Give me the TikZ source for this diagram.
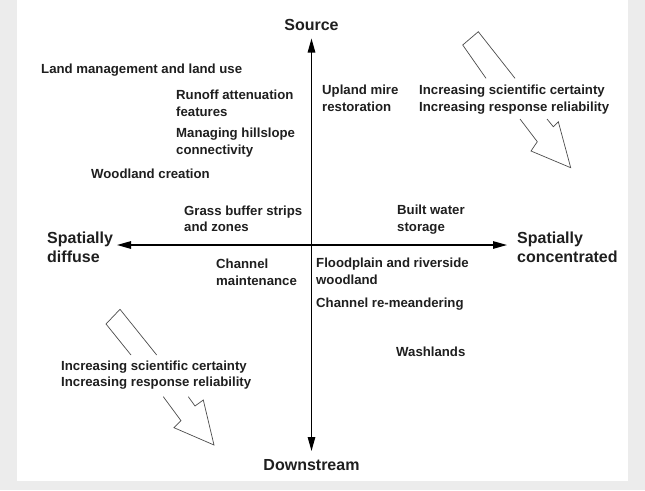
\documentclass[tikz,border=0pt]{standalone}
\usepackage{fontspec}
\setmainfont{Liberation Sans}
\usetikzlibrary{arrows.meta}
\definecolor{bggray}{RGB}{236,236,236}
\tikzset{
  lbl/.style={font=\fontsize{13.2}{16.7}\selectfont\bfseries, inner sep=0pt, anchor=north west, align=left, text=black!88},
  big/.style={font=\fontsize{16}{19}\selectfont\bfseries, inner sep=0pt, align=left, text=black!88},
  axisline/.style={line width=1.2pt, {Triangle[length=14pt,width=7.5pt]}-{Triangle[length=14pt,width=7.5pt]}},
  hollow/.style={line width=0.7pt, draw=black!70, line join=miter}
}
\begin{document}
\begin{tikzpicture}[x=1pt,y=-1pt]
\useasboundingbox (0,0) rectangle (645,490);
\fill[bggray] (0,0) rectangle (645,490);
\fill[white] (17,0) rectangle (628,481);

% axes
\coordinate (up) at (311.5,38.5);
\coordinate (down) at (311.5,451);
\coordinate (left) at (117,245);
\coordinate (right) at (507,245);
\draw[axisline] (down) -- (up);
\draw[axisline] (left) -- (right);

% axis labels
\node[big, anchor=base] (source) at (311.5,30) {Source};
\node[big, anchor=base] (downstream) at (311.5,470) {Downstream};
\node[big, anchor=north west] (diffuse) at (47,231.5) {Spatially\\diffuse};
\node[big, anchor=north west] (concentrated) at (517,231.5) {Spatially\\concentrated};

% measures
\node[lbl] (land) at (41,63.7) {Land management and land use};
\node[lbl] (runoff) at (176,89.7) {Runoff attenuation\\features};
\node[lbl] (hillslope) at (176,128.1) {Managing hillslope\\connectivity};
\node[lbl] (woodland) at (91,168.4) {Woodland creation};
\node[lbl] (grass) at (184,205.4) {Grass buffer strips\\and zones};
\node[lbl] (mire) at (322,84.7) {Upland mire\\restoration};
\node[lbl] (certTR) at (419,84.7) {Increasing scientific certainty\\Increasing response reliability};
\node[lbl] (built) at (397,204.7) {Built water\\storage};
\node[lbl] (chmaint) at (216,258.7) {Channel\\maintenance};
\node[lbl] (flood) at (316,258.1) {Floodplain and riverside\\woodland};
\node[lbl] (remeander) at (316,298.1) {Channel re-meandering};
\node[lbl] (wash) at (396,347.1) {Washlands};
\node[lbl] (certLL) at (61,360.4) {Increasing scientific certainty\\Increasing response reliability};

% hollow arrows (top right)
\draw[hollow] (486,78.3) -- (462.7,45) -- (478.3,31.7) -- (515,78.3);
\draw[hollow] (520,119) -- (537.3,141.7) -- (531,151) -- (570.7,167.7) -- (558.3,121.7) -- (553.3,126.7) -- (547,119);

% hollow arrows (bottom left)
\draw[hollow] (131,355) -- (106,324) -- (120,309.3) -- (156.7,355);
\draw[hollow] (163.3,396.7) -- (181,420.7) -- (174,427.7) -- (214,445) -- (203.3,400) -- (195,406) -- (188.3,396.7);
\end{tikzpicture}
\end{document}
